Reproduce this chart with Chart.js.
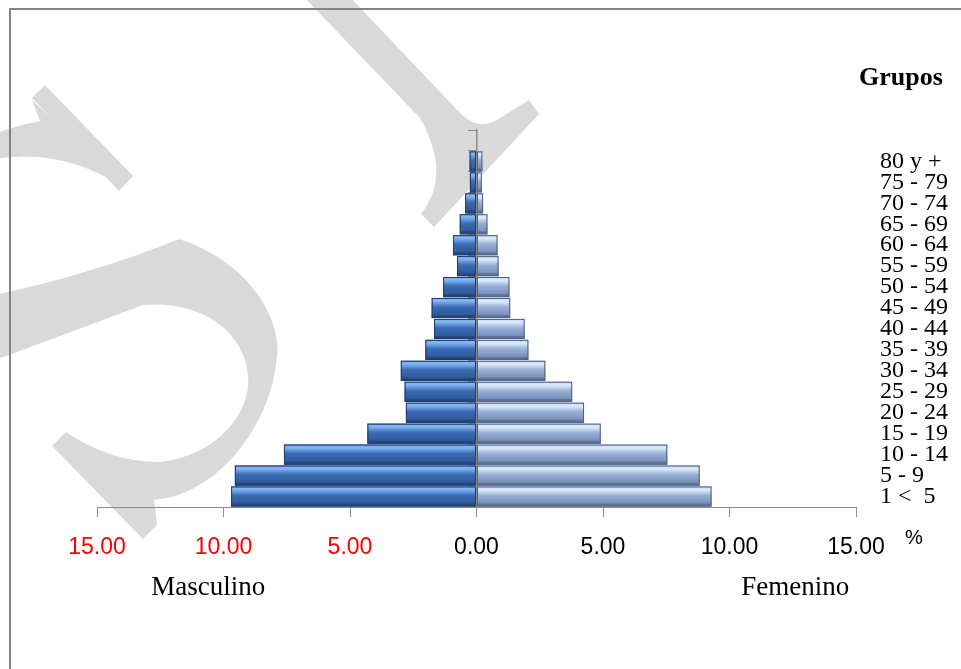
<!DOCTYPE html>
<html>
<head>
<meta charset="utf-8">
<script src="https://cdn.jsdelivr.net/npm/chart.js@4.4.1/dist/chart.umd.min.js"></script>
<style>
  html, body { margin: 0; padding: 0; background: #fff; }
  #wrap { width: 961px; height: 669px; position: relative; }
</style>
</head>
<body>
<div id="wrap"><canvas id="pyramid"></canvas></div>
<script>
// age groups, top to bottom
const groups = ['80 y +', '75 - 79', '70 - 74', '65 - 69', '60 - 64', '55 - 59', '50 - 54',
  '45 - 49', '40 - 44', '35 - 39', '30 - 34', '25 - 29', '20 - 24', '15 - 19',
  '10 - 14', '5 - 9', '1 <  5'];

// percent of population
const male = [0.27, 0.26, 0.45, 0.66, 0.93, 0.77, 1.32, 1.77, 1.68, 2.02, 2.99, 2.84, 2.79, 4.31, 7.61, 9.55, 9.70];
const female = [0.23, 0.21, 0.26, 0.43, 0.83, 0.87, 1.30, 1.33, 1.90, 2.05, 2.72, 3.78, 4.25, 4.91, 7.54, 8.82, 9.29];

const xMin = -15, xMax = 15, xStep = 5;

// the category axis has one empty slot above the oldest group
const rows = [''].concat(groups);

const maleColors = { border: '#1f3d6b', top: '#5d93dd', hi: '#79b0f2', body: '#3a6bb3', low: '#2a5390' };
const femaleColors = { border: '#4f6184', top: '#b9d0ee', hi: '#dbe9fb', body: '#98b0d8', low: '#6c84ad' };

const watermark = {
  id: 'watermark',
  beforeDraw(chart) {
    const ctx = chart.ctx;
    ctx.save();
    ctx.fillStyle = '#d9d9d9';

    // S, upper serif and arc
    ctx.beginPath();
    ctx.moveTo(32, 98); ctx.lineTo(45, 85); ctx.lineTo(133, 176); ctx.lineTo(119, 191);
    ctx.closePath(); ctx.fill();
    ctx.beginPath();
    ctx.moveTo(32, 100); ctx.lineTo(40, 121);
    ctx.quadraticCurveTo(10, 127, -10, 136);
    ctx.lineTo(-10, 160);
    ctx.quadraticCurveTo(60, 146, 125, 188);
    ctx.closePath(); ctx.fill();

    // S, spine and lower bowl
    ctx.beginPath();
    ctx.moveTo(-10, 296);
    ctx.quadraticCurveTo(90, 275, 179, 239);
    ctx.bezierCurveTo(250, 262, 282, 320, 277, 357);
    ctx.bezierCurveTo(270, 430, 215, 495, 154, 500);
    ctx.lineTo(157, 525); ctx.lineTo(143, 539); ctx.lineTo(52, 446); ctx.lineTo(66, 432);
    ctx.quadraticCurveTo(110, 462, 160, 462);
    ctx.bezierCurveTo(220, 455, 252, 410, 248, 375);
    ctx.bezierCurveTo(244, 330, 200, 300, 143, 305);
    ctx.quadraticCurveTo(90, 325, -10, 362);
    ctx.closePath(); ctx.fill();

    // second letter
    ctx.beginPath();
    ctx.moveTo(302, -5); ctx.lineTo(348, -5); ctx.lineTo(461, 114);
    ctx.quadraticCurveTo(480, 132, 500, 118);
    ctx.lineTo(529, 100); ctx.lineTo(539, 114); ctx.lineTo(434, 227); ctx.lineTo(421, 214);
    ctx.quadraticCurveTo(452, 175, 420, 118);
    ctx.closePath(); ctx.fill();

    // frame
    ctx.strokeStyle = '#858585';
    ctx.lineWidth = 2;
    ctx.beginPath();
    ctx.moveTo(961, 9); ctx.lineTo(10, 9); ctx.lineTo(10, 669);
    ctx.stroke();
    ctx.restore();
  }
};

function shadeBars(ctx, meta, c) {
  meta.data.forEach(bar => {
    const p = bar.getProps(['x', 'y', 'base', 'height'], true);
    const l = Math.min(p.x, p.base), r = Math.max(p.x, p.base);
    const t = p.y - p.height / 2, b = p.y + p.height / 2;
    if (r - l < 1) return;
    const g = ctx.createLinearGradient(0, t, 0, b);
    g.addColorStop(0, c.top);
    g.addColorStop(0.18, c.hi);
    g.addColorStop(0.45, c.body);
    g.addColorStop(1, c.low);
    ctx.fillStyle = g;
    ctx.fillRect(l, t, r - l, b - t);
    // bevel edges
    ctx.fillStyle = 'rgba(255,255,255,0.18)';
    ctx.fillRect(l + 1, t + 1, r - l - 2, 2);
    ctx.fillStyle = 'rgba(0,0,0,0.18)';
    ctx.fillRect(l + 1, b - 3, r - l - 2, 2);
    ctx.strokeStyle = c.border;
    ctx.lineWidth = 1;
    ctx.strokeRect(l + 0.5, t + 0.5, r - l - 1, b - t - 1);
  });
}

const bevel = {
  id: 'bevel',
  afterDatasetsDraw(chart) {
    const ctx = chart.ctx;
    ctx.save();
    shadeBars(ctx, chart.getDatasetMeta(0), maleColors);
    shadeBars(ctx, chart.getDatasetMeta(1), femaleColors);
    ctx.restore();
  }
};

const captions = {
  id: 'captions',
  afterDraw(chart) {
    const ctx = chart.ctx;
    const xs = chart.scales.x;
    ctx.save();
    ctx.fillStyle = '#000';
    ctx.textAlign = 'center';
    ctx.textBaseline = 'middle';
    ctx.font = '27px "Liberation Serif", "Times New Roman", serif';
    ctx.fillText('Masculino', xs.getPixelForValue(-10.6), 588);
    ctx.fillText('Femenino', xs.getPixelForValue(12.6), 588);
    ctx.font = 'bold 26px "Liberation Serif", "Times New Roman", serif';
    ctx.fillText('Grupos', 901, 78);
    ctx.font = '20px "Liberation Sans", Arial, sans-serif';
    ctx.fillText('%', 914, 538);
    ctx.restore();
  }
};

new Chart(document.getElementById('pyramid'), {
  type: 'bar',
  data: {
    labels: rows,
    datasets: [
      {
        label: 'Masculino',
        data: [null].concat(male.map(v => -v)),
        backgroundColor: maleColors.body,
        borderColor: maleColors.border,
        borderWidth: 0,
        barPercentage: 1,
        categoryPercentage: 0.96
      },
      {
        label: 'Femenino',
        data: [null].concat(female),
        backgroundColor: femaleColors.body,
        borderColor: femaleColors.border,
        borderWidth: 0,
        barPercentage: 1,
        categoryPercentage: 0.96
      }
    ]
  },
  options: {
    indexAxis: 'y',
    responsive: true,
    maintainAspectRatio: false,
    animation: false,
    layout: { padding: { left: 97, top: 130, right: 0, bottom: 0 } },
    plugins: {
      legend: { display: false },
      tooltip: { enabled: false },
      title: { display: false }
    },
    scales: {
      x: {
        type: 'linear',
        stacked: true,
        min: xMin,
        max: xMax,
        afterFit(scale) { scale.height = 162; },
        ticks: {
          stepSize: xStep,
          padding: 17,
          maxRotation: 0,
          font: { family: '"Liberation Sans", Arial, sans-serif', size: 23 },
          color: ctx => (ctx.tick && ctx.tick.value < 0) ? '#ff0000' : '#000000',
          callback: v => Math.abs(v).toFixed(2)
        },
        grid: { drawOnChartArea: false, drawTicks: true, tickLength: 10, color: '#8c8c8c' },
        border: { display: true, color: '#8c8c8c', width: 1 }
      },
      y: {
        type: 'category',
        stacked: true,
        position: { x: 0 },
        offset: true,
        ticks: { display: false },
        grid: { drawOnChartArea: false, drawTicks: true, tickLength: 8, offset: true, color: '#8c8c8c' },
        border: { display: true, color: '#8c8c8c', width: 1.5 }
      },
      y2: {
        type: 'category',
        labels: rows,
        position: 'right',
        offset: true,
        afterFit(scale) { scale.width = 105; },
        ticks: {
          padding: 16,
          color: '#000',
          autoSkip: false,
          font: { family: '"Liberation Serif", "Times New Roman", serif', size: 24 }
        },
        grid: { display: false },
        border: { display: false }
      }
    }
  },
  plugins: [watermark, bevel, captions]
});
</script>
</body>
</html>
